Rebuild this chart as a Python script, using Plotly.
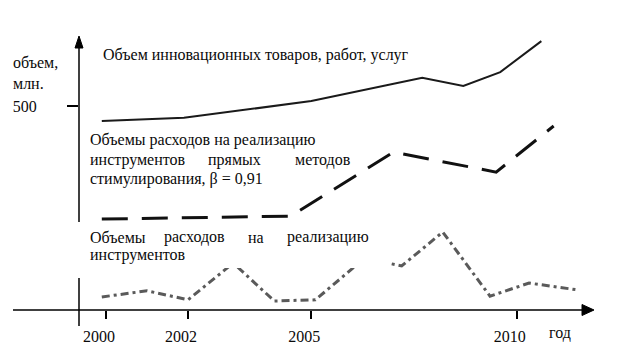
import plotly.graph_objects as go

# ---- data (years, million) ----
innov_years = [1999.9, 2001.9, 2005.0, 2007.7, 2008.7, 2009.6, 2010.6]
innov_vals = [463, 471, 512, 569, 549, 583, 659]

direct_years = [1999.9, 2004.5, 2007.0, 2009.5, 2010.9]
direct_vals = [223, 230, 387, 338, 451]

instr_years = [1999.9, 2001.0, 2002.0, 2003.1, 2004.1, 2005.1, 2006.3, 2007.2, 2008.2, 2009.35, 2010.3, 2011.5]
instr_vals = [32, 47, 25, 115, 22, 25, 127, 108, 191, 34, 66, 49]

tick_years = [2000, 2002, 2005, 2010]
tick_labels = ["2000", "2002", "2005", "2010"]
y_ticks = [500]
y_ticklabels = ["500"]

W, H = 618, 352
FONT = "Liberation Serif, Times New Roman, serif"
TXT = "#0a0a0a"
X_RANGE = [1999.345, 2012.466]
Y_RANGE = [0, 759.8]


def px(x):
    return x / W


def py(y):
    return 1 - y / H


fig = go.Figure()
fig.add_trace(go.Scatter(x=innov_years, y=innov_vals, mode="lines",
                         line=dict(color="#1a1a1a", width=2), showlegend=False))
fig.add_trace(go.Scatter(x=direct_years, y=direct_vals, mode="lines",
                         line=dict(color="#111111", width=3, dash="26px,14px"), showlegend=False))
fig.add_trace(go.Scatter(x=instr_years, y=instr_vals, mode="lines",
                         line=dict(color="#5a5a5a", width=3, dash="8px,4px,3px,4px"), showlegend=False))

shapes = [
    # x axis with arrow
    dict(type="line", xref="paper", yref="paper", x0=px(13), y0=py(310), x1=px(584), y1=py(310),
         line=dict(color="black", width=1.5), layer="above"),
    dict(type="path", xref="paper", yref="paper",
         path=f"M {px(582)} {py(304.5)} L {px(594)} {py(310)} L {px(582)} {py(315.5)} Z",
         fillcolor="black", line=dict(color="black", width=1), layer="above"),
    # y axis (upper part with arrow)
    dict(type="line", xref="paper", yref="paper", x0=px(79), y0=py(222), x1=px(79), y1=py(46),
         line=dict(color="black", width=1.5), layer="above"),
    dict(type="path", xref="paper", yref="paper",
         path=f"M {px(75)} {py(48)} L {px(79)} {py(36)} L {px(83)} {py(48)} Z",
         fillcolor="black", line=dict(color="black", width=1), layer="above"),
    # y axis (lower part)
    dict(type="line", xref="paper", yref="paper", x0=px(79), y0=py(278), x1=px(79), y1=py(326),
         line=dict(color="black", width=1.5), layer="above"),
    # white text box
    dict(type="rect", xref="paper", yref="paper", x0=px(86), y0=py(224), x1=px(388), y1=py(268),
         fillcolor="white", line=dict(width=0), layer="above"),
]

ann = []


def text(t, x, y, anchor="left", size=16):
    ann.append(dict(text=t, xref="paper", yref="paper", x=px(x), y=py(y), xanchor=anchor,
                    yanchor="middle", showarrow=False, borderpad=0,
                    font=dict(family=FONT, size=size, color=TXT)))


text("объем,", 12, 63)
text("млн.", 12, 83)
text("Объем инновационных товаров, работ, услуг", 102, 55)
text("Объемы расходов на реализацию", 89, 140)
text("инструментов", 89, 160)
text("прямых", 207, 160)
text("методов", 352, 160, anchor="right")
text("стимулирования, β = 0,91", 89, 179)
text("Объемы", 89, 237)
text("расходов", 163, 237)
text("на", 247, 237)
text("реализацию", 370, 237, anchor="right")
text("инструментов", 89, 255)
text("год", 560, 333, anchor="center")

fig.update_layout(
    width=W, height=H, margin=dict(l=0, r=0, t=0, b=0),
    paper_bgcolor="white", plot_bgcolor="white",
    shapes=shapes, annotations=ann, showlegend=False,
    xaxis=dict(domain=[79 / W, 1], range=X_RANGE, showgrid=False, zeroline=False, showline=False,
               tickmode="array", tickvals=tick_years, ticktext=tick_labels,
               ticks="outside", ticklen=8, tickwidth=1.5, tickcolor="black",
               tickfont=dict(family=FONT, size=16, color=TXT),
               ticklabelstandoff=4, ticklabelshift=-7),
    xaxis2=dict(overlaying="x", anchor="y", range=X_RANGE, showgrid=False, zeroline=False,
                showline=False, tickmode="array", tickvals=tick_years, showticklabels=False,
                ticks="inside", ticklen=11, tickwidth=1.5, tickcolor="black"),
    yaxis=dict(domain=[42 / H, 1], range=Y_RANGE, showgrid=False, zeroline=False, showline=False,
               tickmode="array", tickvals=y_ticks, ticktext=y_ticklabels,
               ticks="outside", ticklen=11, tickwidth=1.5, tickcolor="black",
               tickfont=dict(family=FONT, size=16, color=TXT),
               ticklabelstandoff=27),
    yaxis2=dict(overlaying="y", anchor="x", side="left", range=Y_RANGE, showgrid=False,
                zeroline=False, showline=False, tickmode="array", tickvals=y_ticks,
                showticklabels=False, ticks="inside", ticklen=12, tickwidth=1.5, tickcolor="black"),
)

fig.write_html("out.html", config={"displayModeBar": False},
               post_script="document.body.style.margin='0px';")
